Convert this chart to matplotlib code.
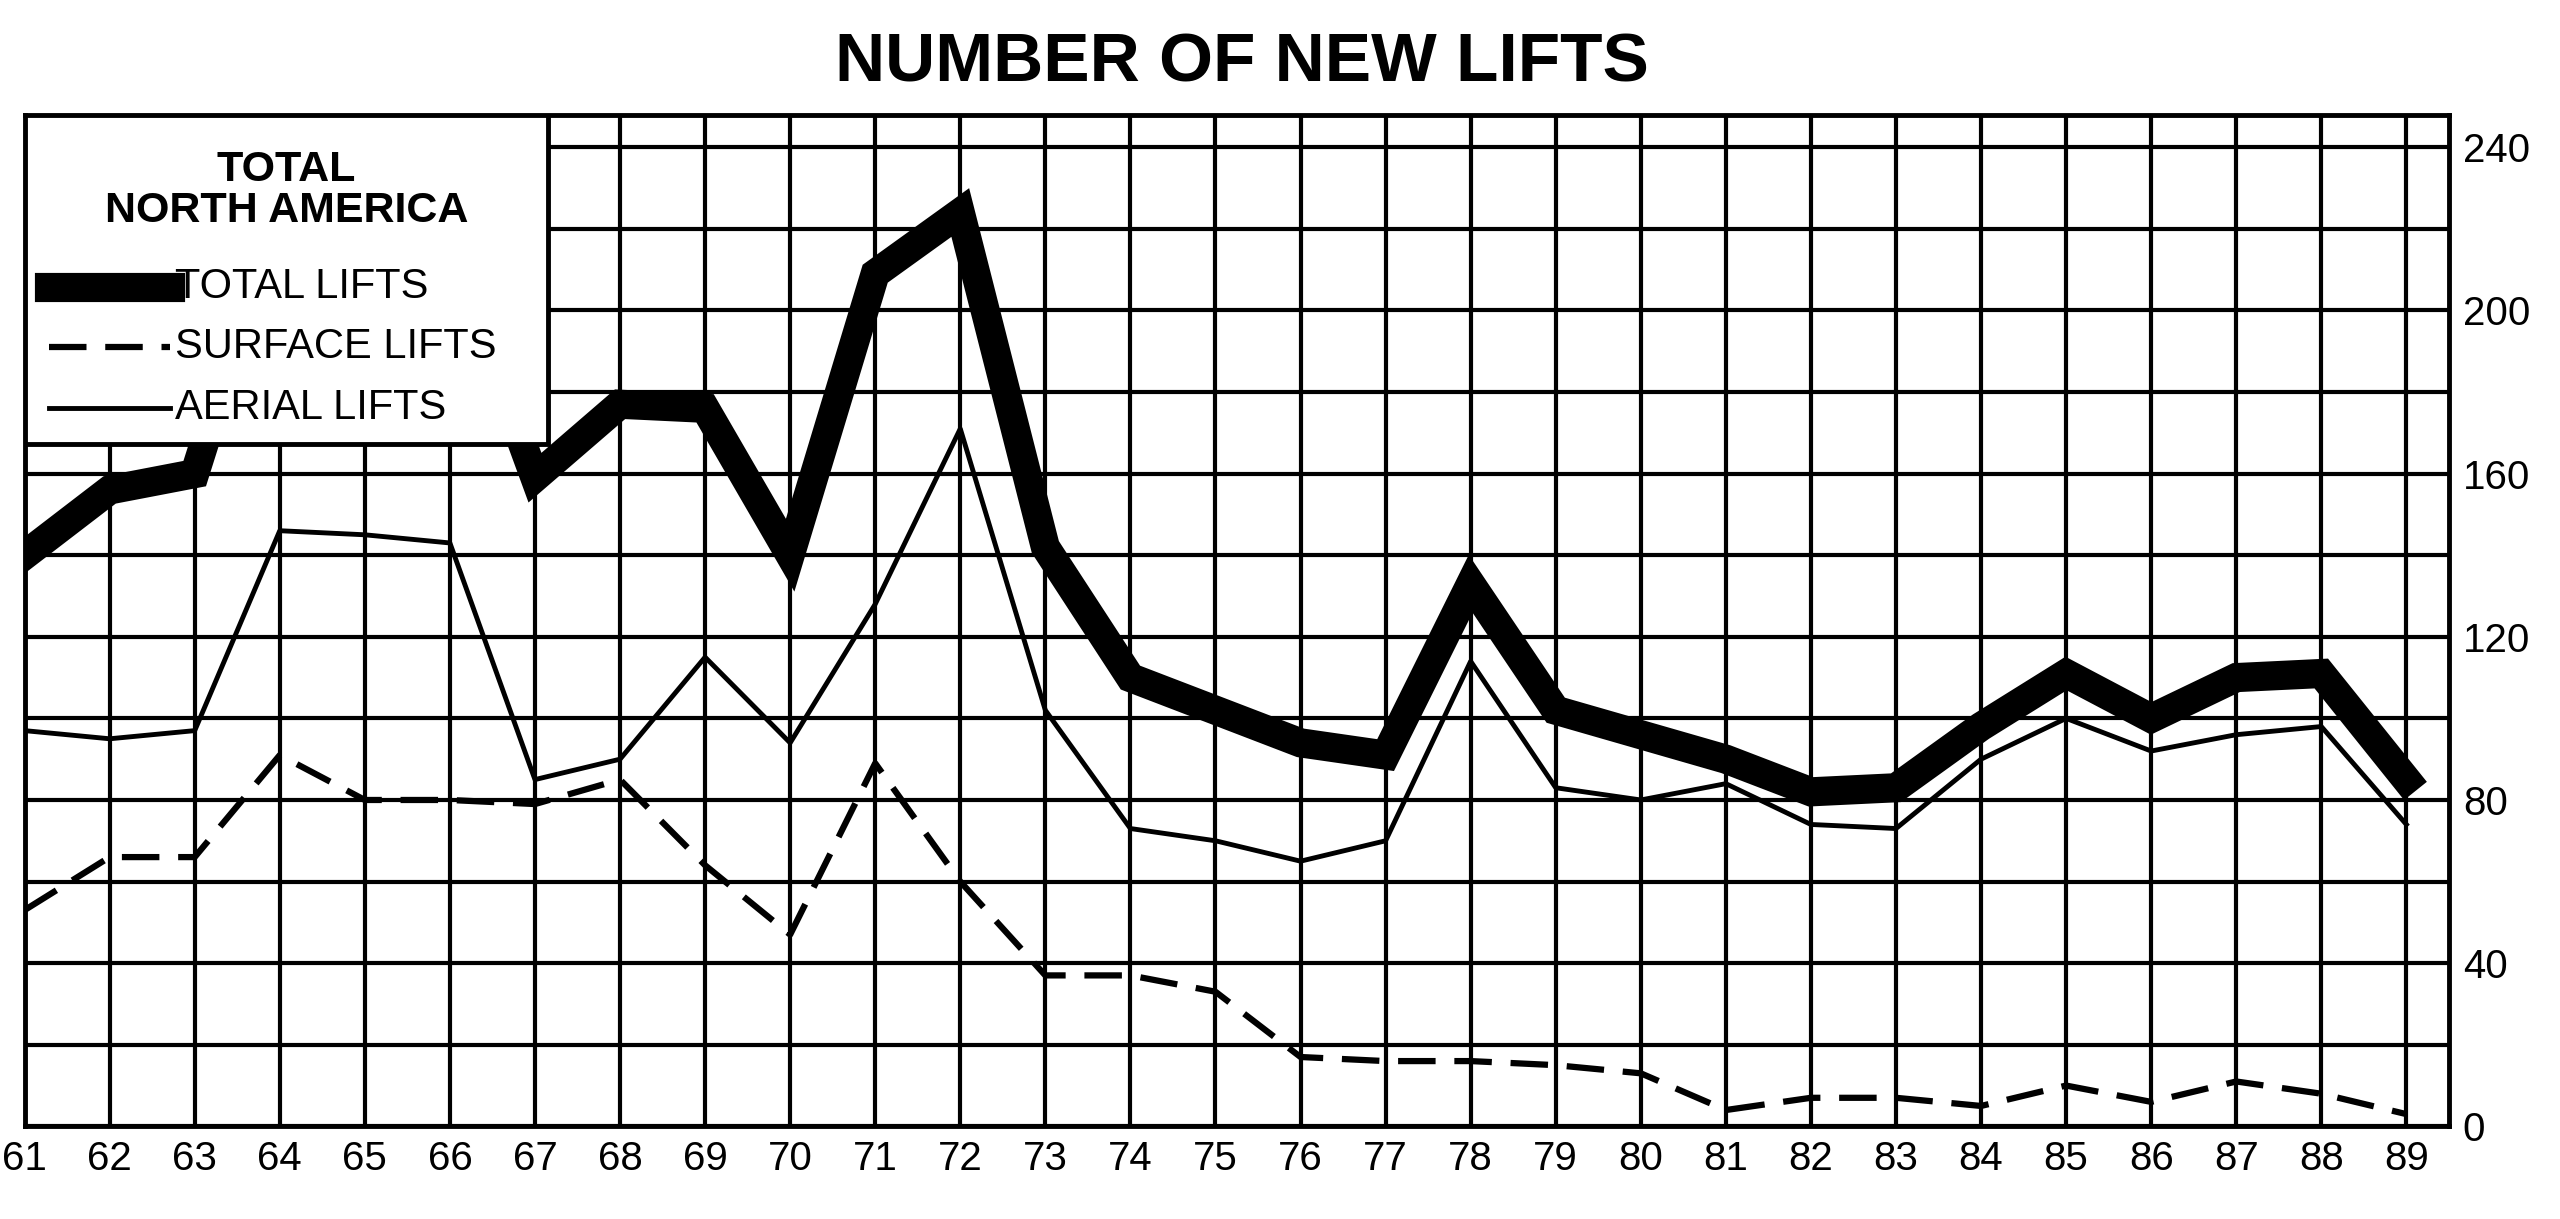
import matplotlib
matplotlib.use("Agg")
import matplotlib.pyplot as plt
from matplotlib.lines import Line2D

plt.rcParams['font.family'] = ['Liberation Sans', 'DejaVu Sans']

years = list(range(61, 90))
year_labels = [str(y) for y in years]
total = [140, 156, 160, 226, 218, 216, 159, 177, 176, 140, 209, 224, 142, 110, 102, 94,
         91, 133, 102, 96, 90, 82, 83, 98, 111, 100, 110, 111, 85]
surface = [53, 66, 66, 91, 80, 80, 79, 85, 64, 47, 89, 60, 37, 37, 33, 17,
           16, 16, 15, 13, 4, 7, 7, 5, 10, 6, 11, 8, 3]
aerial = [97, 95, 97, 146, 145, 143, 85, 90, 115, 94, 128, 171, 102, 73, 70, 65,
          70, 114, 83, 80, 84, 74, 73, 90, 100, 92, 96, 98, 74]
y_ticks = [0, 40, 80, 120, 160, 200, 240]

fig = plt.figure(figsize=(25.6, 12.19), dpi=100)
ax = fig.add_axes([0.0096, 0.076, 0.947, 0.83])

ax.plot(years, total, color='black', lw=21, solid_joinstyle='miter', zorder=3)
ax.plot(years, surface, color='black', lw=4.5, ls=(0, (6, 3)), zorder=3)
ax.plot(years, aerial, color='black', lw=3.5, zorder=3)

ax.set_xlim(61, 89.5)
ax.set_ylim(0, 248)
ax.set_xticks(years)
ax.set_xticklabels(year_labels, fontsize=29)
ax.set_yticks(range(0, 241, 20))
ax.set_yticklabels([str(v) if v in y_ticks else '' for v in range(0, 241, 20)], fontsize=29)
ax.yaxis.tick_right()
ax.tick_params(length=0, pad=10)
ax.grid(True, color='black', lw=3)
for s in ax.spines.values():
    s.set_linewidth(3.5)

# legend box
box = plt.Rectangle((0, 0.674), 0.216, 0.326, transform=ax.transAxes, facecolor='white',
                    edgecolor='black', lw=3.5, zorder=5)
ax.add_patch(box)
ax.text(0.108, 0.925, 'TOTAL\nNORTH AMERICA', transform=ax.transAxes, ha='center', va='center',
        fontsize=31, fontweight='bold', zorder=6, linespacing=1.05)
for yy, lw, ls, lab in [(0.83, 21, '-', 'TOTAL LIFTS'), (0.77, 4.5, (0, (6, 3)), 'SURFACE LIFTS'),
                        (0.71, 3.5, '-', 'AERIAL LIFTS')]:
    ax.add_line(Line2D([0.01, 0.06], [yy, yy], transform=ax.transAxes, color='black', lw=lw,
                       ls=ls, zorder=6))
    ax.text(0.062, yy, lab, transform=ax.transAxes, va='center', fontsize=30, zorder=6)

fig.text(0.485, 0.948, 'NUMBER OF NEW LIFTS', ha='center', va='center', fontsize=50,
         fontweight='bold')
fig.savefig('out.png', dpi=100)
